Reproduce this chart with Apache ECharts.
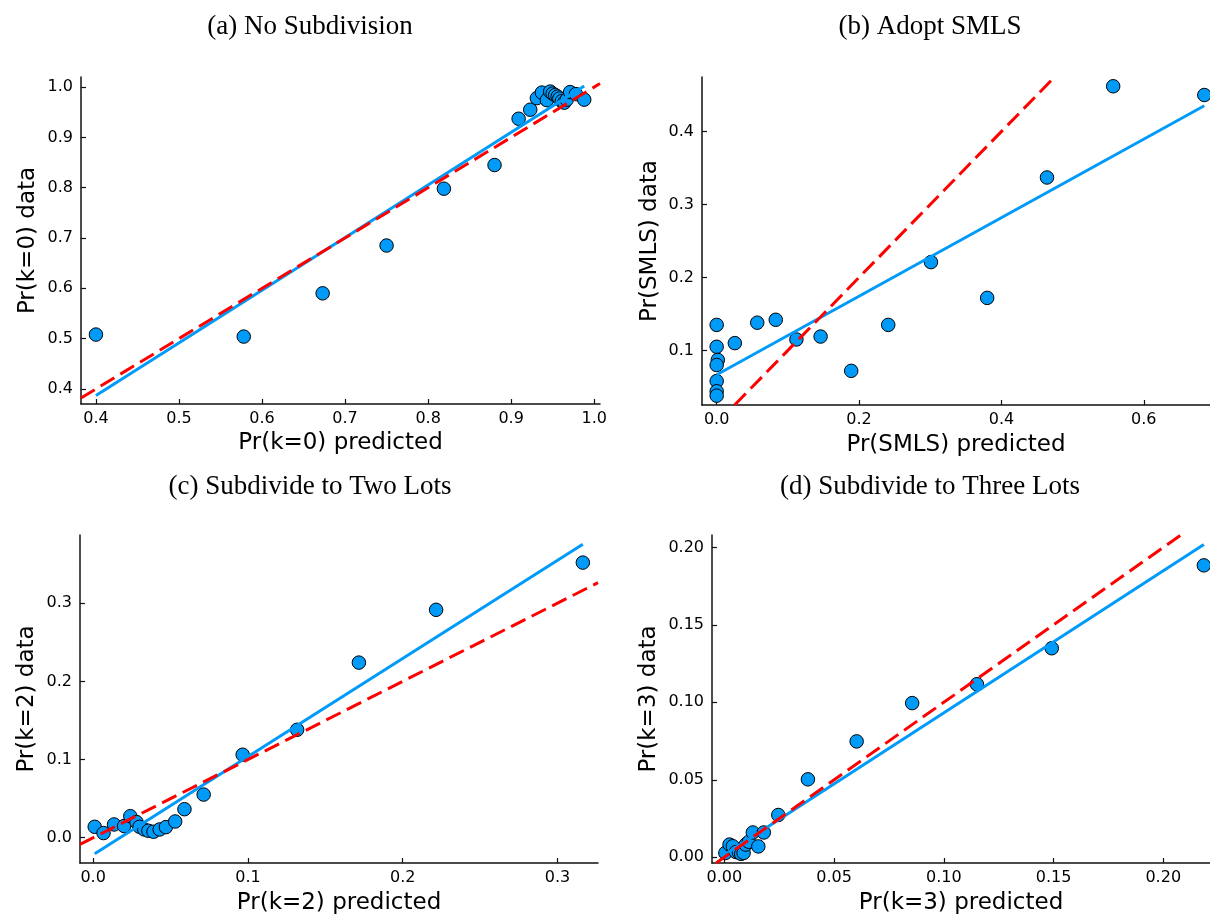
<!DOCTYPE html>
<html>
<head>
<meta charset="utf-8">
<script src="https://cdn.jsdelivr.net/npm/echarts@6/dist/echarts.min.js"></script>
<style>
  html, body { margin: 0; padding: 0; background: #fff; }
  #chart { width: 1210px; height: 916px; }
</style>
</head>
<body>
<div id="chart"></div>
<script>
// panel titles and axis names
var titles = ["(a) No Subdivision", "(b) Adopt SMLS", "(c) Subdivide to Two Lots", "(d) Subdivide to Three Lots"];
var xNames = ["Pr(k=0) predicted", "Pr(SMLS) predicted", "Pr(k=2) predicted", "Pr(k=3) predicted"];
var yNames = ["Pr(k=0) data", "Pr(SMLS) data", "Pr(k=2) data", "Pr(k=3) data"];

// (a) no subdivision
var predA = [0.400, 0.578, 0.673, 0.750, 0.819, 0.880, 0.909, 0.923, 0.931, 0.937, 0.943,
             0.947, 0.950, 0.953, 0.956, 0.958, 0.961, 0.964, 0.967, 0.971, 0.978, 0.988];
var dataA = [0.508, 0.504, 0.590, 0.685, 0.798, 0.845, 0.937, 0.955, 0.978, 0.989, 0.974,
             0.991, 0.987, 0.984, 0.981, 0.977, 0.972, 0.969, 0.975, 0.990, 0.986, 0.975];
// (b) adopt SMLS
var predB = [0, 0, 0.0016, 0, 0, 0, 0, 0.0255, 0.057, 0.083, 0.112, 0.146, 0.189, 0.241,
             0.301, 0.380, 0.464, 0.557, 0.685];
var dataB = [0.135, 0.105, 0.087, 0.080, 0.058, 0.044, 0.038, 0.110, 0.138, 0.142, 0.115,
             0.119, 0.072, 0.135, 0.221, 0.172, 0.337, 0.462, 0.450];
// (c) two lots
var predC = [0.001, 0.0067, 0.0135, 0.020, 0.024, 0.028, 0.030, 0.033, 0.0357, 0.039, 0.043,
             0.047, 0.053, 0.059, 0.0714, 0.0966, 0.1318, 0.1717, 0.2216, 0.3164];
var dataC = [0.014, 0.006, 0.017, 0.015, 0.0276, 0.020, 0.014, 0.0106, 0.0089, 0.0077, 0.0106,
             0.0136, 0.0208, 0.0365, 0.0552, 0.1062, 0.1381, 0.224, 0.2915, 0.3519];
// (d) three lots
var predD = [0.0005, 0.0024, 0.0039, 0.0053, 0.0067, 0.0077, 0.0088, 0.0098, 0.0112, 0.013,
             0.0155, 0.018, 0.0246, 0.0381, 0.0603, 0.0856, 0.1151, 0.1492, 0.2185];
var dataD = [0.0028, 0.0082, 0.0071, 0.0034, 0.0030, 0.0022, 0.0028, 0.0082, 0.0100, 0.0160,
             0.0070, 0.0160, 0.0273, 0.0503, 0.0748, 0.0995, 0.1117, 0.1349, 0.1884];

// fitted line: [intercept, slope]
var fitA = [-0.0313, 1.0458];
var fitB = [0.0667, 0.538];
var fitC = [-0.0217, 1.2546];
var fitD = [0.0015, 0.917];

// axis ranges and ticks
var xRangeA = [0.382, 1.007], yRangeA = [0.370, 1.020];
var xRangeB = [-0.0206, 0.693], yRangeB = [0.0252, 0.4747];
var xRangeC = [-0.0085, 0.3262], yRangeC = [-0.0323, 0.3872];
var xRangeD = [-0.0056, 0.2213], yRangeD = [-0.0037, 0.208];
var xTicksA = [0.4, 0.5, 0.6, 0.7, 0.8, 0.9, 1.0], yTicksA = [0.4, 0.5, 0.6, 0.7, 0.8, 0.9, 1.0];
var xTicksB = [0, 0.2, 0.4, 0.6], yTicksB = [0.1, 0.2, 0.3, 0.4];
var xTicksC = [0, 0.1, 0.2, 0.3], yTicksC = [0, 0.1, 0.2, 0.3];
var xTicksD = [0, 0.05, 0.1, 0.15, 0.2], yTicksD = [0, 0.05, 0.1, 0.15, 0.2];

var panels = [
  { pred: predA, obs: dataA, fit: fitA, xr: xRangeA, yr: yRangeA, xt: xTicksA, yt: yTicksA, dig: 1,
    grid: { left: 81, top: 77, width: 519, height: 327 }, title: [310, 27], yGap: 41, xGap: 28 },
  { pred: predB, obs: dataB, fit: fitB, xr: xRangeB, yr: yRangeB, xt: xTicksB, yt: yTicksB, dig: 1,
    grid: { left: 702, top: 77, width: 508, height: 328 }, title: [930, 27], yGap: 40, xGap: 29 },
  { pred: predC, obs: dataC, fit: fitC, xr: xRangeC, yr: yRangeC, xt: xTicksC, yt: yTicksC, dig: 1,
    grid: { left: 80, top: 535, width: 518, height: 328 }, title: [310, 487], yGap: 41, xGap: 29 },
  { pred: predD, obs: dataD, fit: fitD, xr: xRangeD, yr: yRangeD, xt: xTicksD, yt: yTicksD, dig: 2,
    grid: { left: 712, top: 535, width: 498, height: 328 }, title: [930, 487], yGap: 51, xGap: 29 }
];

var axisFont = "DejaVu Sans";
var grids = [], xAxes = [], yAxes = [], series = [], graphics = [];

panels.forEach(function (p, i) {
  grids.push(p.grid);
  var fmt = (function (d) { return function (v) { return v.toFixed(d); }; })(p.dig);
  var common = {
    type: "value",
    gridIndex: i,
    splitLine: { show: false },
    axisLine: { show: true, onZero: false, lineStyle: { color: "#111", width: 1.5 } },
    nameLocation: "middle",
    nameTextStyle: { fontFamily: axisFont, fontSize: 23, color: "#000" }
  };
  xAxes.push(Object.assign({}, common, {
    min: p.xr[0], max: p.xr[1],
    name: xNames[i], nameGap: p.xGap,
    axisTick: { show: true, inside: true, length: 5, customValues: p.xt, lineStyle: { color: "#111", width: 1.2 } },
    axisLabel: { customValues: p.xt, formatter: fmt, fontFamily: axisFont, fontSize: 16, color: "#000", margin: 7 }
  }));
  yAxes.push(Object.assign({}, common, {
    min: p.yr[0], max: p.yr[1],
    name: yNames[i], nameGap: p.yGap, nameRotate: 90,
    axisTick: { show: true, inside: true, length: 5, customValues: p.yt, lineStyle: { color: "#111", width: 1.2 } },
    axisLabel: { customValues: p.yt, formatter: fmt, fontFamily: axisFont, fontSize: 16, color: "#000", margin: 8 }
  }));

  var pts = p.pred.map(function (x, k) { return [x, p.obs[k]]; });
  series.push({
    type: "scatter", xAxisIndex: i, yAxisIndex: i, data: pts, symbolSize: 13.5, z: 2,
    itemStyle: { color: "#009AF9", borderColor: "#000", borderWidth: 1, opacity: 1 }
  });

  var x0 = Math.min.apply(null, p.pred), x1 = Math.max.apply(null, p.pred);
  series.push({
    type: "line", xAxisIndex: i, yAxisIndex: i, showSymbol: false, z: 3, silent: true,
    data: [[x0, p.fit[0] + p.fit[1] * x0], [x1, p.fit[0] + p.fit[1] * x1]],
    lineStyle: { color: "#009AF9", width: 3 }
  });

  var lo = Math.max(p.xr[0], p.yr[0]), hi = Math.min(p.xr[1], p.yr[1]);
  series.push({
    type: "line", xAxisIndex: i, yAxisIndex: i, showSymbol: false, z: 4, silent: true,
    data: [[lo, lo], [hi, hi]],
    lineStyle: { color: "#FF0000", width: 3, type: [16, 7] }
  });

  graphics.push({
    type: "text", x: p.title[0], y: p.title[1],
    style: { text: titles[i], font: "27px 'Liberation Serif'", fill: "#000",
             textAlign: "center", textVerticalAlign: "middle", align: "center", verticalAlign: "middle" }
  });
});

var myChart = echarts.init(document.getElementById("chart"));
myChart.setOption({
  animation: false,
  backgroundColor: "#fff",
  grid: grids,
  xAxis: xAxes,
  yAxis: yAxes,
  series: series,
  graphic: graphics
});
</script>
</body>
</html>
